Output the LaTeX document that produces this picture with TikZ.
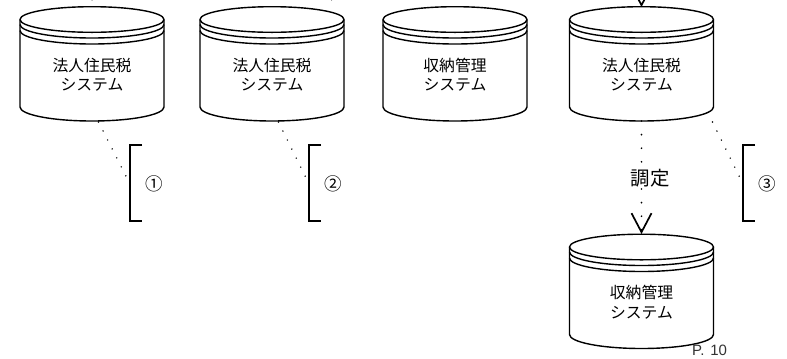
\documentclass[tikz,border=0pt]{standalone}
\usepackage{fontspec}
\setmainfont{Noto Sans CJK JP}
\newfontfamily\latinfont[WordSpace=1.4]{Liberation Sans}
\usetikzlibrary{arrows.meta}
\tikzset{
  cyl/.style={line width=1.4bp,draw=black,line join=round},
  cyltext/.style={align=center,text=black,font=\fontsize{15.8bp}{19.4bp}\selectfont,inner sep=0pt},
  leader/.style={line width=1.6bp,line cap=round,dash pattern=on 0pt off 10.06bp,draw=black},
  flowdots/.style={line width=1.9bp,line cap=round,dash pattern=on 0pt off 13.6bp,draw=black},
  barbhead/.tip={Straight Barb[length=19bp,width=20bp,line width=1.7bp]},
  flowhead/.style={line width=1.7bp,draw=black,-{barbhead}},
  brack/.style={line width=1.4bp,draw=black,line cap=butt,line join=miter},
  numtext/.style={font=\fontsize{17.5bp}{18bp}\selectfont,text=black,inner sep=0pt},
}
\newcommand{\dbcyl}[4]{%
  \begin{scope}[shift={(#2,#3)}]
    \draw[cyl] (0,19.5) ellipse (72 and 12.8);
    \draw[cyl] (-72,24.5) arc (180:0:72 and 13.5);
    \draw[cyl] (-72,30.5) arc (180:0:72 and 13.5);
    \draw[cyl] (-72,19.5) -- (-72,107) arc (180:0:72 and 14) -- (72,19.5);
    \node[cyltext] (#1) at (0,74.5) {#4};
  \end{scope}}
\newcommand{\brk}[3]{%
  \coordinate (#1t) at (#2+12,145);
  \coordinate (#1b) at (#2+12,221);
  \coordinate (#1m) at (#2,184);
  \draw[brack] (#1t) -- (#2,145) -- (#2,221) -- (#1b);
  \node[numtext] (#1n) at (#2+24.5,184) {#3};}
\begin{document}
\begin{tikzpicture}[x=1bp,y=-1bp]
  \useasboundingbox (0,0) rectangle (787,358);
  \clip (0,0) rectangle (787,358);
  \fill[white] (0,0) rectangle (787,358);

  \dbcyl{sysA}{92}{0}{法人住民税\\システム}
  \dbcyl{sysB}{272}{0}{法人住民税\\システム}
  \dbcyl{sysC}{455}{0}{収納管理\\システム}
  \dbcyl{sysD}{641.5}{0}{法人住民税\\システム}
  \dbcyl{sysE}{641.5}{227.5}{収納管理\\システム}

  \brk{brA}{130}{①}
  \brk{brB}{309}{②}
  \brk{brC}{743}{③}

  % leaders from the cylinders to the brackets
  \coordinate (leadA) at (98.5,122);
  \coordinate (leadB) at (278.5,122);
  \coordinate (leadC) at (712.5,122);
  \draw[leader] (leadA) -- (brAm);
  \draw[leader] (leadB) -- (brBm);
  \draw[leader] (leadC) -- (brCm);

  % flow D -> E with label
  \coordinate (dBottom) at (641.5,121);
  \coordinate (eTop) at (641.5,234);
  \draw[flowdots] (dBottom) -- (eTop);
  \coordinate (eHead) at (641.5,233);
  \draw[flowhead] (eHead) -- (eTop);
  \node[fill=white,inner sep=1pt,text=black,font=\fontsize{19.4bp}{22bp}\selectfont] (chotei) at (650,178) {調定};

  % connectors coming in from above the picture
  \coordinate (dAbove) at (641.5,6);
  \coordinate (dTop) at (641.5,7);
  \draw[flowhead] (dAbove) -- (dTop);
  \coordinate (aAbove) at (92,-13.6);
  \coordinate (aTop) at (92,6.5);
  \draw[flowdots,line width=1bp] (aAbove) -- (aTop);
  \coordinate (bAbove) at (327,-9);
  \coordinate (bEnd) at (331.5,0);
  \draw[leader,line width=1bp] (bAbove) -- (bEnd);

  \node[anchor=base west,inner sep=0pt,text=black!80,font=\latinfont\fontsize{15bp}{18bp}\selectfont] (page) at (692,355.5) {P. 10};
\end{tikzpicture}
\end{document}
